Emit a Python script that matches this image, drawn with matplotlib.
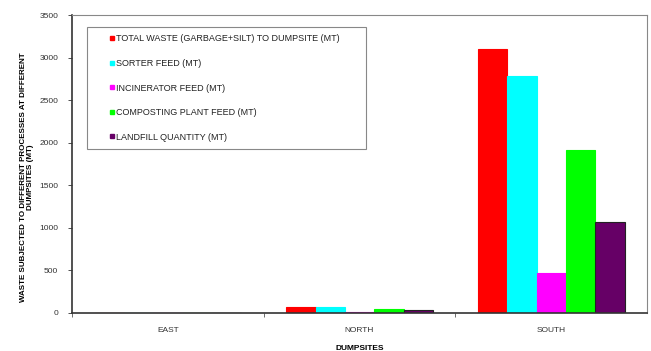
import numpy as np
import matplotlib
matplotlib.use("Agg")
from matplotlib import pyplot as plt
from matplotlib.lines import Line2D
from matplotlib.patches import Rectangle
from matplotlib.ticker import FixedLocator, NullFormatter

sites = ["EAST", "NORTH", "SOUTH"]
series = [
    "TOTAL WASTE (GARBAGE+SILT) TO DUMPSITE (MT)",
    "SORTER FEED (MT)",
    "INCINERATOR FEED (MT)",
    "COMPOSTING PLANT FEED (MT)",
    "LANDFILL QUANTITY (MT)",
]
total_waste = [0, 72, 3100]
sorter_feed = [0, 68, 2790]
incinerator_feed = [0, 15, 470]
composting_feed = [0, 45, 1910]
landfill_qty = [0, 30, 1065]
values = [total_waste, sorter_feed, incinerator_feed, composting_feed, landfill_qty]
colors = ["#ff0000", "#00ffff", "#ff00ff", "#00ff00", "#660066"]
edges = ["#ff0000", "#00ffff", "#ff00ff", "#00ff00", "#222222"]

plt.rcParams["font.family"] = ["Liberation Sans", "DejaVu Sans"]

fig = plt.figure(figsize=(6.51, 3.51), dpi=100)
ax = fig.add_axes([0.1106, 0.1083, 0.8833, 0.8487])

x = np.arange(len(sites))
width = 0.153
for i, (name, vals) in enumerate(zip(series, values)):
    offs = (i - 2) * width
    ax.bar(x + offs, vals, width, color=colors[i], edgecolor=edges[i],
           linewidth=0.8)

ax.set_xlim(-0.5, 2.5)
ax.set_ylim(0, 3500)
ax.set_yticks(np.arange(0, 3501, 500))
ax.tick_params(axis="y", labelsize=6, length=3, width=0.6, pad=7, colors="#333333")
ax.set_xticks(x)
ax.set_xticklabels(sites)
ax.tick_params(axis="x", which="major", length=0, labelsize=6, pad=10, colors="#333333")
ax.xaxis.set_minor_locator(FixedLocator([-0.5, 0.5, 1.5]))
ax.xaxis.set_minor_formatter(NullFormatter())
ax.tick_params(axis="x", which="minor", length=3, width=0.6, color="#555555")

for side in ["top", "right"]:
    ax.spines[side].set_color("#888888")
    ax.spines[side].set_linewidth(0.8)
for side in ["left", "bottom"]:
    ax.spines[side].set_color("#333333")
    ax.spines[side].set_linewidth(1.2)

ax.set_xlabel("DUMPSITES", fontsize=6, fontweight="bold", labelpad=8)
ax.set_ylabel("WASTE SUBJECTED TO DIFFERENT PROCESSES AT DIFFERENT\nDUMPSITES (MT)",
              fontsize=5.8, fontweight="bold", linespacing=1.0)
ax.yaxis.set_label_coords(-0.066, 0.456)

# legend box drawn separately so the markers sit well inside the frame
ax.add_patch(Rectangle((0.026, 0.55), 0.485, 0.41, transform=ax.transAxes,
                       fill=False, edgecolor="#888888", linewidth=0.8, zorder=5))
handles = [Line2D([], [], linestyle="none", marker="s", markersize=3.5,
                  markerfacecolor=c, markeredgecolor=c) for c in colors]
leg = ax.legend(handles, series, loc="upper left", bbox_to_anchor=(0.065, 0.935),
                fontsize=6.5, frameon=False, labelspacing=1.72,
                handlelength=0.5, handletextpad=0.25, borderpad=0.0,
                borderaxespad=0.0)
for t in leg.get_texts():
    t.set_color("#222222")

fig.savefig("out.png", dpi=100)
